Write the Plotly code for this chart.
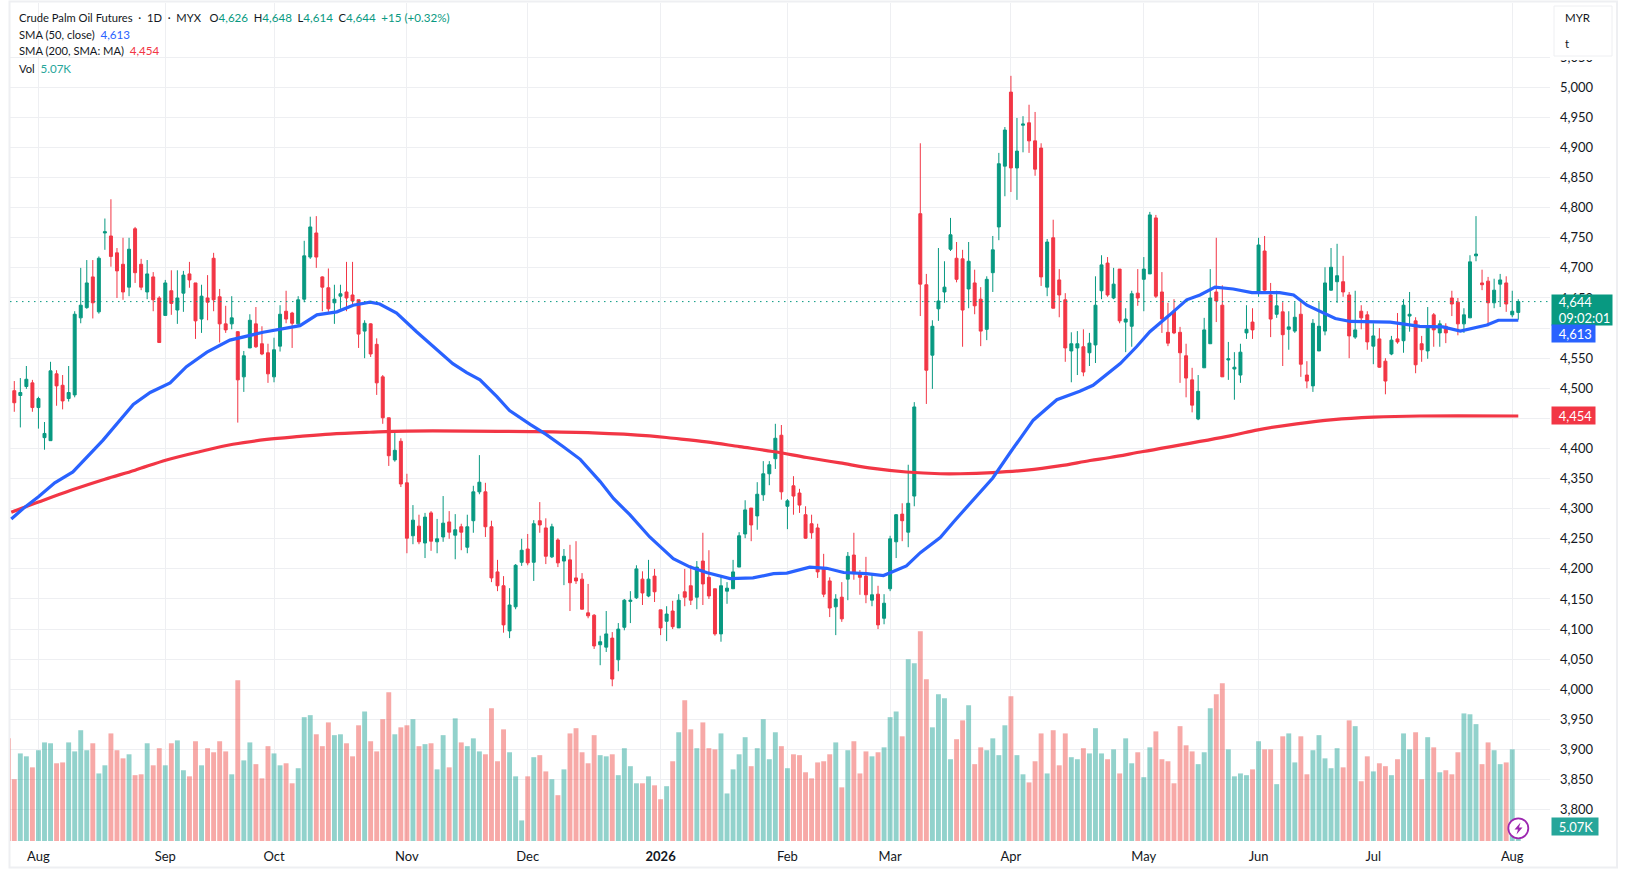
"""Crude Palm Oil Futures daily candles with SMA 50/200 and volume."""
import plotly.graph_objects as go

UP = '#089981'
DOWN = '#F23645'
BLUE = '#2962FF'
VOL_TEAL = '#26A69A'
INK = '#131722'
GRID = '#EEEFF2'
FONT = 'Lato, "Open Sans", sans-serif'

# ── data ────────────────────────────────────────────────
opens = [
    4496,4488,4503,4509,4468,4418,4413,4524,4505,4483,
    4489,4617,4634,4685,4627,4758,4753,4725,4706,4668,
    4765,4706,4660,4685,4650,4621,4662,4630,4658,4690,
    4675,4615,4650,4716,4652,4607,4607,4594,4519,4567,
    4607,4574,4559,4519,4570,4628,4625,4607,4648,4718,
    4758,4685,4667,4642,4653,4660,4655,4647,4595,4607,
    4573,4519,4451,4381,4412,4343,4255,4271,4243,4293,
    4245,4253,4278,4256,4270,4236,4280,4328,4328,4270,
    4195,4172,4097,4137,4211,4233,4211,4280,4268,4220,
    4248,4213,4215,4185,4183,4127,4123,4074,4070,4085,
    4049,4103,4146,4152,4183,4155,4188,4132,4113,4130,
    4102,4162,4172,4153,4213,4186,4167,4092,4163,4167,
    4203,4258,4301,4288,4323,4358,4383,4422,4304,4338,
    4326,4290,4275,4268,4201,4180,4137,4153,4183,4223,
    4192,4188,4148,4158,4118,4167,4245,4291,4261,4321,
    4790,4672,4555,4632,4660,4731,4716,4715,4665,4675,
    4648,4598,4692,4768,4869,4992,4866,4937,4941,4911,
    4899,4668,4750,4680,4647,4562,4567,4569,4559,4572,
    4662,4708,4650,4698,4610,4603,4658,4681,4690,4783,
    4660,4593,4628,4593,4554,4514,4449,4534,4574,4660,
    4638,4547,4532,4522,4592,4610,4658,4728,4655,4623,
    4627,4598,4595,4623,4522,4504,4562,4595,4663,4677,
    4677,4655,4585,4628,4622,4570,4582,4545,4557,4582,
    4579,4620,4612,4574,4562,4622,4592,4603,4650,4643,
    4607,4617,4720,4675,4678,4642,4673,4675,4622,4626,
]
highs = [
    4512,4517,4537,4514,4486,4444,4544,4530,4522,4537,
    4628,4700,4713,4713,4719,4782,4814,4733,4750,4750,
    4768,4715,4713,4693,4653,4680,4696,4696,4695,4710,
    4675,4672,4688,4725,4665,4637,4653,4595,4562,4623,
    4635,4603,4574,4584,4638,4662,4627,4653,4745,4785,
    4786,4686,4699,4672,4672,4710,4710,4647,4613,4608,
    4583,4522,4451,4427,4417,4358,4306,4290,4293,4296,
    4283,4321,4296,4291,4275,4290,4338,4389,4343,4280,
    4215,4188,4168,4208,4250,4258,4281,4311,4284,4275,
    4251,4233,4240,4246,4193,4175,4125,4089,4130,4095,
    4110,4150,4163,4206,4196,4215,4200,4132,4138,4147,
    4158,4200,4206,4213,4260,4231,4167,4190,4178,4215,
    4261,4314,4301,4344,4379,4379,4441,4439,4316,4354,
    4333,4304,4290,4275,4225,4186,4158,4178,4228,4260,
    4198,4220,4192,4172,4158,4255,4291,4309,4373,4477,
    4907,4690,4613,4733,4711,4783,4743,4730,4743,4697,
    4668,4686,4753,4891,4934,5019,4949,4952,4971,4959,
    4907,4748,4780,4698,4658,4593,4595,4598,4592,4686,
    4721,4718,4700,4698,4633,4662,4698,4718,4793,4788,
    4693,4642,4648,4602,4574,4534,4522,4617,4698,4750,
    4671,4577,4560,4574,4638,4633,4750,4753,4675,4662,
    4643,4628,4643,4643,4545,4615,4643,4701,4733,4740,
    4720,4660,4662,4638,4628,4608,4600,4550,4587,4625,
    4648,4660,4618,4587,4635,4625,4613,4608,4662,4650,
    4633,4721,4786,4697,4685,4682,4690,4686,4662,4648,
]
lows = [
    4461,4435,4499,4461,4433,4398,4413,4471,4465,4478,
    4485,4608,4632,4616,4624,4730,4702,4650,4647,4653,
    4675,4663,4648,4628,4576,4621,4622,4607,4627,4667,
    4582,4592,4613,4628,4576,4592,4598,4443,4494,4567,
    4567,4555,4509,4510,4561,4608,4567,4605,4643,4715,
    4700,4628,4627,4607,4632,4628,4640,4567,4550,4552,
    4489,4441,4371,4378,4336,4226,4241,4241,4218,4230,
    4226,4245,4250,4216,4231,4226,4260,4324,4253,4178,
    4163,4094,4085,4133,4205,4206,4180,4260,4208,4218,
    4203,4173,4130,4175,4133,4118,4067,4040,4062,4005,
    4030,4098,4110,4150,4140,4153,4145,4090,4080,4100,
    4102,4138,4140,4133,4140,4150,4089,4079,4142,4167,
    4203,4251,4246,4265,4313,4339,4366,4315,4266,4290,
    4293,4250,4250,4185,4153,4120,4090,4112,4148,4182,
    4157,4143,4138,4100,4108,4163,4218,4246,4236,4304,
    4620,4474,4499,4612,4642,4728,4676,4569,4633,4623,
    4570,4580,4660,4746,4819,4826,4813,4892,4891,4853,
    4670,4653,4633,4618,4544,4510,4522,4520,4537,4542,
    4648,4652,4648,4608,4560,4569,4637,4628,4690,4650,
    4592,4570,4590,4509,4485,4460,4447,4534,4574,4610,
    4519,4514,4481,4509,4582,4582,4652,4657,4585,4617,
    4537,4564,4592,4519,4500,4494,4562,4588,4662,4642,
    4652,4550,4582,4598,4564,4540,4534,4490,4555,4574,
    4559,4594,4525,4544,4549,4569,4569,4575,4620,4588,
    4592,4617,4711,4663,4603,4633,4635,4627,4618,4614,
]
closes = [
    4476,4493,4515,4468,4483,4425,4529,4504,4479,4493,
    4623,4638,4675,4642,4716,4760,4719,4695,4660,4731,
    4692,4668,4690,4647,4576,4675,4641,4650,4688,4680,
    4612,4653,4643,4647,4607,4597,4617,4514,4554,4613,
    4569,4557,4524,4564,4623,4615,4608,4647,4720,4768,
    4718,4668,4632,4648,4657,4650,4645,4590,4608,4557,
    4509,4451,4388,4397,4341,4251,4281,4245,4286,4246,
    4250,4276,4261,4265,4261,4270,4328,4344,4270,4185,
    4172,4107,4140,4206,4231,4210,4275,4273,4221,4270,
    4210,4221,4177,4180,4133,4122,4072,4079,4092,4017,
    4100,4148,4148,4200,4160,4183,4162,4102,4125,4104,
    4148,4153,4148,4203,4175,4155,4092,4172,4168,4195,
    4255,4298,4273,4324,4358,4373,4417,4328,4313,4321,
    4306,4251,4260,4195,4158,4135,4150,4117,4221,4192,
    4186,4157,4157,4107,4143,4250,4290,4280,4309,4469,
    4673,4530,4603,4645,4668,4755,4681,4630,4711,4637,
    4595,4681,4730,4873,4929,4866,4894,4939,4911,4864,
    4685,4743,4633,4655,4567,4574,4574,4527,4575,4638,
    4705,4655,4673,4612,4615,4657,4650,4698,4788,4653,
    4615,4575,4592,4559,4517,4472,4495,4597,4650,4645,
    4519,4549,4535,4560,4598,4597,4738,4663,4615,4637,
    4589,4602,4618,4540,4512,4608,4603,4675,4701,4687,
    4660,4587,4597,4617,4577,4587,4535,4512,4580,4577,
    4638,4623,4539,4564,4603,4597,4607,4592,4640,4607,
    4622,4710,4723,4672,4642,4663,4680,4640,4628,4644,
]

# volume in thousands; the first value belongs to the bar cut off at the left edge
volumes = [
    35.4,
    21.3,30.2,29.2,25.4,31.3,34.0,33.7,26.8,27.1,34.0,
    30.9,38.2,31.3,33.7,23.3,26.1,37.1,31.3,28.5,29.9,
    22.7,23.0,33.7,26.1,32.0,26.1,33.7,34.7,24.4,22.3,
    34.4,26.1,32.0,30.6,34.4,30.9,23.0,55.4,27.8,34.0,
    26.5,21.6,32.7,30.2,26.1,26.8,19.9,25.1,42.7,43.4,
    36.8,32.7,40.9,36.5,36.8,33.7,29.2,39.9,44.7,34.4,
    30.9,42.0,51.3,36.8,39.2,39.9,42.0,32.7,33.4,33.7,
    24.7,36.5,25.4,42.3,34.0,32.7,35.4,30.9,29.9,45.8,
    27.5,38.5,30.6,22.3,7.1,22.3,28.9,29.6,24.0,21.3,
    15.8,24.7,37.1,38.9,30.6,26.8,36.5,29.6,29.2,29.9,
    22.7,32.0,25.8,19.9,19.9,22.3,19.2,14.4,18.9,27.5,
    37.5,48.5,38.5,32.0,40.9,32.0,31.6,37.1,16.4,24.7,
    29.9,35.8,25.8,32.0,42.0,28.2,37.5,32.7,25.1,29.9,
    29.6,23.7,21.6,27.1,27.5,29.9,34.0,18.5,31.3,34.4,
    23.3,30.9,29.2,30.6,32.3,42.7,44.7,36.1,62.7,61.3,
    72.3,55.8,39.2,50.6,49.2,28.2,35.1,41.6,46.8,26.5,
    32.3,31.3,35.4,29.6,39.9,49.9,29.6,23.0,20.2,27.5,
    37.1,23.3,38.2,26.1,37.1,28.9,28.2,32.0,30.2,38.9,
    30.2,28.2,31.6,23.3,35.4,26.8,30.6,22.0,32.3,37.8,
    28.2,27.5,19.9,39.6,33.0,30.9,26.5,30.6,45.8,50.6,
    54.4,31.6,22.3,23.3,22.7,24.7,34.4,31.6,31.6,19.6,
    36.1,37.1,27.1,36.1,23.0,31.3,36.5,28.5,25.1,32.0,
    25.4,41.6,39.6,20.6,29.2,24.0,26.8,25.8,22.7,28.2,
    37.1,31.6,37.5,21.3,35.8,32.3,23.7,24.4,23.0,30.6,
    44.0,43.7,40.3,26.5,34.0,31.3,26.5,27.1,31.6,5.07,
]

sma50_days = [
    -0.5,1.8,4,6.7,9.7,12.8,14.7,19.7,22.5,25.8,28.5,31.9,35.7,41.2,47.3,50.1,
    53.4,56.1,58.9,60.5,63.3,66.6,69.4,72.6,74.9,77.1,79.9,82,85.4,88.1,90.9,
    93.7,97,99.2,101.9,105.2,106.4,109.1,111.9,114.6,118.5,122.3,125.7,127.9,
    131.7,134.5,137.3,141.1,143.9,147.7,150,153.3,155.5,158.8,162,165,168.7,
    172.6,176.4,178.6,183.1,185.8,188,191.3,194.1,196.3,198.8,201.8,204.9,
    209.5,211.8,214,216.7,218.7,221.2,227.8,232.7,236.5,239.4,243.8,245.7,249,
]
sma50_values = [
    4283,4303,4320,4343,4361,4395,4414,4473,4493,4509,4536,4560,4580,4593,4604,4622,
    4627,4638,4643,4640,4625,4594,4569,4541,4526,4514,4486,4463,4440,4423,4403,
    4382,4345,4317,4290,4253,4242,4217,4203,4194,4184,4185,4192,4193,
    4203,4201,4194,4192,4189,4205,4227,4252,4278,4316,4351,4395,4447,
    4481,4495,4505,4541,4569,4594,4622,4647,4655,4668,4665,4659,
    4659,4655,4638,4625,4616,4611,4610,4603,4602,4595,4605,4613,4613,
]
sma200_days = [
    -0.5,4,9.5,15,20,25.2,30.8,36.2,41.8,47.3,52.3,58.9,65,85.4,95.8,105.2,109.1,
    114.6,120.1,125.6,131.2,136.7,142.2,147.7,153.3,156.6,162,167.6,173,178.1,
    181.4,186.9,201.3,205.9,212.3,218.4,225,232.7,249,
]
sma200_values = [
    4294,4311,4331,4349,4364,4381,4395,4407,4415,4420,4424,4427,4429,4428,4426,4421,4417,
    4411,4403,4395,4385,4376,4367,4361,4358,4358,4360,4364,4371,4380,
    4385,4395,4421,4431,4441,4448,4452,4454,4454,
]

month_days = [4, 25, 43, 65, 85, 107, 128, 145, 165, 187, 206, 225, 248]
month_labels = ['Aug', 'Sep', 'Oct', 'Nov', 'Dec', '<b>2026</b>', 'Feb', 'Mar', 'Apr', 'May', 'Jun', 'Jul', 'Aug']
price_ticks = list(range(3800, 5100, 50))
# the last-value tags sit right on top of these two, so their labels stay empty
covered_ticks = [4450, 4600]
price_tick_labels = ['' if p in covered_ticks else f'{p:,}' for p in price_ticks]

last_close = closes[-1]
last_sma50 = sma50_values[-1]
last_sma200 = sma200_values[-1]
last_volume = volumes[-1]

# ── layout helpers: pixel position to paper fraction ─────
W, H = 1626, 869
LEFT, RIGHT, TOP, BOTTOM = 10, 1550, 3, 841


def px(x):
    return (x - LEFT) / (RIGHT - LEFT)


def py(y):
    return (BOTTOM - y) / (BOTTOM - TOP)


candle_days = list(range(len(closes)))
volume_days = list(range(-1, len(closes)))
vol_colors = ['rgba(239,83,80,0.5)'] + [
    'rgba(38,166,154,0.5)' if c >= o else 'rgba(239,83,80,0.5)' for o, c in zip(opens, closes)
]

fig = go.Figure()
fig.add_trace(go.Bar(
    x=volume_days, y=volumes, marker=dict(color=vol_colors, line_width=0),
    yaxis='y', showlegend=False,
))
fig.add_trace(go.Candlestick(
    x=candle_days, open=opens, high=highs, low=lows, close=closes,
    increasing=dict(line=dict(color=UP, width=1), fillcolor=UP),
    decreasing=dict(line=dict(color=DOWN, width=1), fillcolor=DOWN),
    whiskerwidth=0, yaxis='y2', showlegend=False,
))
fig.add_trace(go.Scatter(
    x=sma200_days, y=sma200_values, mode='lines', yaxis='y2', showlegend=False,
    line=dict(color=DOWN, width=3.2, shape='spline', smoothing=1.0),
))
fig.add_trace(go.Scatter(
    x=sma50_days, y=sma50_values, mode='lines', yaxis='y2', showlegend=False,
    line=dict(color=BLUE, width=3.2),
))

# last price dotted line
fig.add_shape(type='line', xref='paper', yref='y2', x0=0, x1=1, y0=last_close, y1=last_close,
              line=dict(color=UP, width=1, dash='1.5px,4.5px'))
# outer frame and currency box
fig.add_shape(type='rect', xref='paper', yref='paper', x0=px(9.5), x1=px(1617), y0=py(867.5), y1=py(1.5),
              line=dict(color=GRID, width=2), layer='below')
fig.add_shape(type='rect', xref='paper', yref='paper', x0=px(1552), x1=px(1614), y0=py(60), y1=py(4),
              line=dict(width=0), fillcolor='white')
fig.add_shape(type='rect', xref='paper', yref='paper', x0=px(1554), x1=px(1612), y0=py(56), y1=py(6),
              line=dict(color=GRID, width=1), fillcolor='white')
# bolt badge
fig.add_shape(type='circle', xref='paper', yref='paper', x0=px(1508.3), x1=px(1528.3), y0=py(838.3), y1=py(818.3),
              line=dict(color='#9C27B0', width=1.8), fillcolor='white')
bolt = [(1520.5, 822.5), (1514.5, 829.5), (1518, 829.5), (1516.5, 834.5), (1522.5, 827.5), (1519, 827.5)]
fig.add_shape(type='path', xref='paper', yref='paper', line=dict(width=0), fillcolor='#9C27B0',
              path='M ' + ' L '.join(f'{px(a):.6f} {py(b):.6f}' for a, b in bolt) + ' Z')


def note(x, y, text, size=11.2, color=INK, **kw):
    fig.add_annotation(xref='paper', yref='paper', x=px(x), y=py(y), text=text, showarrow=False,
                       xanchor='left', yanchor='middle', font=dict(family=FONT, size=size, color=color), **kw)


def g(s):
    return f'<span style="color:{UP};font-size:11.6px">{s}</span>'


note(17, 17, 'Crude Palm Oil Futures&nbsp;&nbsp;·&nbsp;&nbsp;1D&nbsp;&nbsp;·&nbsp;&nbsp;MYX&nbsp;&nbsp;&nbsp;O' + g('4,626')
     + '&nbsp;&nbsp;H' + g('4,648') + '&nbsp;&nbsp;L' + g('4,614') + '&nbsp;&nbsp;C' + g('4,644')
     + '&nbsp;&nbsp;' + g('+15 (+0.32%)'))
note(17, 34, f'SMA (50, close)&nbsp;&nbsp;<span style="color:{BLUE};font-size:11.6px">{last_sma50:,}</span>')
note(17, 51, f'SMA (200, SMA: MA)&nbsp;&nbsp;<span style="color:{DOWN};font-size:11.6px">{last_sma200:,}</span>')
note(17, 68, f'Vol&nbsp;&nbsp;<span style="color:{VOL_TEAL};font-size:11.6px">{last_volume:.2f}K</span>')
note(1563, 18, 'MYR', size=11.5)
note(1563, 44, 't', size=11.5)


def price_tag(value, text, color, width, height, yshift=0, yanchor='middle', ref='y2'):
    fig.add_annotation(xref='paper', yref=ref, x=px(1551), y=value, text=text, showarrow=False,
                       xanchor='left', yanchor=yanchor, yshift=yshift, width=width, height=height,
                       align='left', valign='middle', bgcolor=color, borderpad=0,
                       font=dict(family=FONT, size=13, color='white'))


price_tag(last_close, f'&nbsp;&nbsp;{last_close:,}<br>&nbsp;&nbsp;09:02:01', UP, 60, 30, yshift=8, yanchor='top')
price_tag(last_sma50, f'&nbsp;&nbsp;{last_sma50:,}', BLUE, 43, 17, yshift=-13)
price_tag(last_sma200, f'&nbsp;&nbsp;{last_sma200:,}', DOWN, 43, 17)
price_tag(last_volume, f'&nbsp;&nbsp;{last_volume:.2f}K', VOL_TEAL, 46, 17, ref='y')

fig.update_layout(
    width=W, height=H, margin=dict(l=LEFT, r=W - RIGHT, t=TOP, b=H - BOTTOM, autoexpand=False),
    paper_bgcolor='white', plot_bgcolor='white', bargap=0.19, dragmode=False,
    font=dict(family=FONT, size=13, color=INK),
    xaxis=dict(
        range=[-0.71, 254.25], tickmode='array', tickvals=month_days, ticktext=month_labels,
        showgrid=True, gridcolor=GRID, gridwidth=1, zeroline=False, showline=False, ticks='',
        rangeslider=dict(visible=False), ticklabelstandoff=6,
        tickfont=dict(family=FONT, size=13, color=INK),
    ),
    yaxis=dict(range=[0, 289], visible=False, fixedrange=True),
    yaxis2=dict(
        overlaying='y', side='right', range=[3748, 5140], tickmode='array',
        tickvals=price_ticks, ticktext=price_tick_labels, showgrid=True, gridcolor=GRID, gridwidth=1,
        zeroline=False, showline=False, ticks='', ticklabelstandoff=9,
        tickfont=dict(family=FONT, size=13, color=INK),
    ),
)

fig.write_html('out.html', config={'displayModeBar': False},
               post_script="document.body.style.margin='0';document.body.style.overflow='hidden';")
